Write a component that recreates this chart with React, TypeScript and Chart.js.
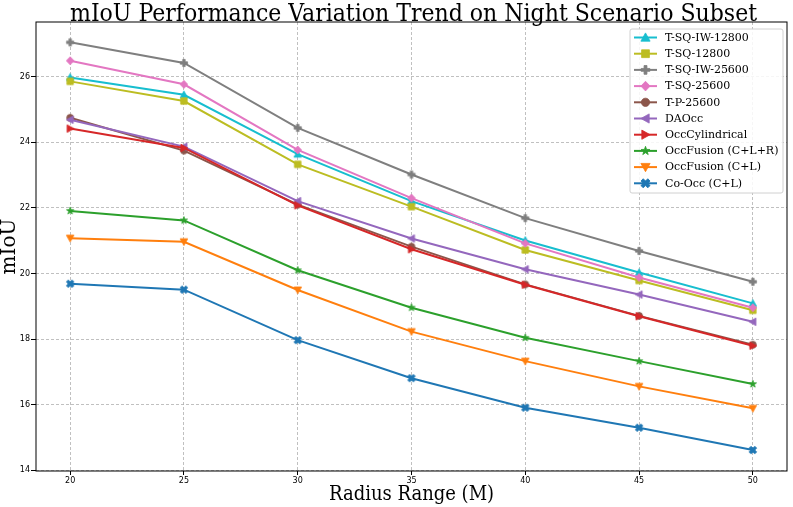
import React, { useEffect, useRef } from 'react';
import { Chart, registerables } from 'chart.js';

Chart.register(...registerables);

const radius = [20, 25, 30, 35, 40, 45, 50];
const xTicks = [20, 25, 30, 35, 40, 45, 50];
const yTicks = [14, 16, 18, 20, 22, 24, 26];

const chartTitle = 'mIoU Performance Variation Trend on Night Scenario Subset';
const xTitle = 'Radius Range (M)';
const yTitle = 'mIoU';

const seriesNames = [
  'T-SQ-IW-12800',
  'T-SQ-12800',
  'T-SQ-IW-25600',
  'T-SQ-25600',
  'T-P-25600',
  'DAOcc',
  'OccCylindrical',
  'OccFusion (C+L+R)',
  'OccFusion (C+L)',
  'Co-Occ (C+L)',
];

const tsqIw12800 = [25.98, 25.45, 23.64, 22.21, 21.01, 20.03, 19.09];
const tsq12800 = [25.86, 25.26, 23.33, 22.04, 20.72, 19.79, 18.88];
const tsqIw25600 = [27.05, 26.42, 24.44, 23.02, 21.69, 20.69, 19.75];
const tsq25600 = [26.49, 25.77, 23.77, 22.3, 20.92, 19.88, 18.96];
const tp25600 = [24.75, 23.75, 22.1, 20.82, 19.67, 18.71, 17.83];
const daocc = [24.69, 23.87, 22.21, 21.07, 20.13, 19.36, 18.53];
const occCylindrical = [24.42, 23.83, 22.08, 20.74, 19.66, 18.7, 17.8];
const occFusionCLR = [21.91, 21.62, 20.1, 18.96, 18.04, 17.33, 16.63];
const occFusionCL = [21.08, 20.97, 19.5, 18.23, 17.33, 16.56, 15.89];
const coOcc = [19.69, 19.51, 17.97, 16.81, 15.91, 15.3, 14.62];

const seriesValues = [
  tsqIw12800,
  tsq12800,
  tsqIw25600,
  tsq25600,
  tp25600,
  daocc,
  occCylindrical,
  occFusionCLR,
  occFusionCL,
  coOcc,
];

const seriesColors = [
  '#17becf',
  '#bcbd22',
  '#7f7f7f',
  '#e377c2',
  '#8c564b',
  '#9467bd',
  '#d62728',
  '#2ca02c',
  '#ff7f0e',
  '#1f77b4',
];

const seriesMarkers = [
  'triUp',
  'square',
  'plus',
  'diamond',
  'circle',
  'triLeft',
  'triRight',
  'star',
  'triDown',
  'xfilled',
];

const SERIF_COND = "'DejaVu Serif Condensed', 'DejaVu Serif', serif";
const SERIF = "'DejaVu Serif', serif";
const SANS = "'DejaVu Sans', sans-serif";

function drawMarker(ctx: CanvasRenderingContext2D, kind: string, cx: number, cy: number, h: number, color: string) {
  ctx.save();
  ctx.fillStyle = color;
  ctx.strokeStyle = color;
  ctx.lineWidth = 0.8;
  ctx.setLineDash([]);
  ctx.beginPath();
  switch (kind) {
    case 'triUp':
      ctx.moveTo(cx, cy - h);
      ctx.lineTo(cx + h, cy + h * 0.8);
      ctx.lineTo(cx - h, cy + h * 0.8);
      break;
    case 'triDown':
      ctx.moveTo(cx, cy + h);
      ctx.lineTo(cx + h, cy - h * 0.8);
      ctx.lineTo(cx - h, cy - h * 0.8);
      break;
    case 'triLeft':
      ctx.moveTo(cx - h, cy);
      ctx.lineTo(cx + h * 0.8, cy - h);
      ctx.lineTo(cx + h * 0.8, cy + h);
      break;
    case 'triRight':
      ctx.moveTo(cx + h, cy);
      ctx.lineTo(cx - h * 0.8, cy - h);
      ctx.lineTo(cx - h * 0.8, cy + h);
      break;
    case 'square': {
      const s = h * 0.85;
      ctx.rect(cx - s, cy - s, 2 * s, 2 * s);
      break;
    }
    case 'diamond':
      ctx.moveTo(cx, cy - h * 1.05);
      ctx.lineTo(cx + h * 1.0, cy);
      ctx.lineTo(cx, cy + h * 1.05);
      ctx.lineTo(cx - h * 1.0, cy);
      break;
    case 'circle':
      ctx.arc(cx, cy, h * 0.9, 0, Math.PI * 2);
      break;
    case 'plus': {
      const a = h * 0.95;
      const t = a / 3;
      ctx.moveTo(cx - t, cy - a);
      ctx.lineTo(cx + t, cy - a);
      ctx.lineTo(cx + t, cy - t);
      ctx.lineTo(cx + a, cy - t);
      ctx.lineTo(cx + a, cy + t);
      ctx.lineTo(cx + t, cy + t);
      ctx.lineTo(cx + t, cy + a);
      ctx.lineTo(cx - t, cy + a);
      ctx.lineTo(cx - t, cy + t);
      ctx.lineTo(cx - a, cy + t);
      ctx.lineTo(cx - a, cy - t);
      ctx.lineTo(cx - t, cy - t);
      break;
    }
    case 'star': {
      const ro = h * 1.0;
      const ri = ro * 0.4;
      for (let i = 0; i < 10; i++) {
        const r = i % 2 === 0 ? ro : ri;
        const ang = -Math.PI / 2 + (i * Math.PI) / 5;
        const px = cx + r * Math.cos(ang);
        const py = cy + r * Math.sin(ang);
        if (i === 0) ctx.moveTo(px, py);
        else ctx.lineTo(px, py);
      }
      break;
    }
    case 'xfilled': {
      ctx.translate(cx, cy);
      ctx.rotate(Math.PI / 4);
      const a = h * 1.05;
      const t = a / 3;
      ctx.moveTo(-t, -a);
      ctx.lineTo(t, -a);
      ctx.lineTo(t, -t);
      ctx.lineTo(a, -t);
      ctx.lineTo(a, t);
      ctx.lineTo(t, t);
      ctx.lineTo(t, a);
      ctx.lineTo(-t, a);
      ctx.lineTo(-t, t);
      ctx.lineTo(-a, t);
      ctx.lineTo(-a, -t);
      ctx.lineTo(-t, -t);
      break;
    }
  }
  ctx.closePath();
  ctx.fill();
  ctx.stroke();
  ctx.restore();
}

function markerImage(kind: string, color: string, h: number): HTMLCanvasElement {
  const size = Math.ceil(h * 2 + 4);
  const c = document.createElement('canvas');
  c.width = size;
  c.height = size;
  const ctx = c.getContext('2d')!;
  drawMarker(ctx, kind, size / 2, size / 2, h, color);
  return c;
}

const framePlugin = {
  id: 'frameAndLegend',
  afterDraw(chart: any) {
    const { ctx, chartArea } = chart;
    const { left, top, right, bottom } = chartArea;
    ctx.save();
    ctx.setLineDash([]);
    ctx.strokeStyle = '#000';
    ctx.lineWidth = 1;
    ctx.strokeRect(left, top, right - left, bottom - top);

    // title centred over the axes, as matplotlib does
    ctx.fillStyle = '#000';
    ctx.font = `24.5px ${SERIF_COND}`;
    ctx.textAlign = 'center';
    ctx.textBaseline = 'middle';
    ctx.fillText(chartTitle, (left + right) / 2 + 2, top - 7.5);

    // legend
    const bw = 153;
    const bh = 164;
    const bx = right - 4 - bw;
    const by = top + 7;
    ctx.fillStyle = 'rgba(255,255,255,0.85)';
    ctx.strokeStyle = '#d0d0d0';
    ctx.lineWidth = 1;
    ctx.beginPath();
    const r = 2;
    ctx.moveTo(bx + r, by);
    ctx.lineTo(bx + bw - r, by);
    ctx.quadraticCurveTo(bx + bw, by, bx + bw, by + r);
    ctx.lineTo(bx + bw, by + bh - r);
    ctx.quadraticCurveTo(bx + bw, by + bh, bx + bw - r, by + bh);
    ctx.lineTo(bx + r, by + bh);
    ctx.quadraticCurveTo(bx, by + bh, bx, by + bh - r);
    ctx.lineTo(bx, by + r);
    ctx.quadraticCurveTo(bx, by, bx + r, by);
    ctx.closePath();
    ctx.fill();
    ctx.stroke();

    ctx.font = `11px ${SERIF}`;
    ctx.textBaseline = 'middle';
    ctx.textAlign = 'left';
    seriesNames.forEach((name, i) => {
      const cy = by + 8.5 + i * 16.2;
      const color = seriesColors[i];
      ctx.strokeStyle = color;
      ctx.lineWidth = 2;
      ctx.beginPath();
      ctx.moveTo(bx + 4, cy);
      ctx.lineTo(bx + 27, cy);
      ctx.stroke();
      drawMarker(ctx, seriesMarkers[i], bx + 15.5, cy, 4.6, color);
      ctx.fillStyle = '#000';
      ctx.fillText(name, bx + 35, cy + 0.5);
    });
    ctx.restore();
  },
};

export default function App() {
  const canvasRef = useRef<HTMLCanvasElement | null>(null);

  useEffect(() => {
    const canvas = canvasRef.current;
    if (!canvas) return;
    const n = seriesNames.length;
    const datasets = seriesNames.map((name, i) => ({
      label: name,
      data: radius.map((x, j) => ({ x, y: seriesValues[i][j] })),
      borderColor: seriesColors[i],
      backgroundColor: seriesColors[i],
      borderWidth: 2,
      pointStyle: markerImage(seriesMarkers[i], seriesColors[i], 3.8) as any,
      pointRadius: 4,
      tension: 0,
      fill: false,
      order: n - i,
    }));

    const chart = new Chart(canvas, {
      type: 'line',
      data: { datasets },
      options: {
        animation: false,
        responsive: false,
        events: [],
        layout: { padding: { left: 0, right: 3, top: 22, bottom: 0 } },
        plugins: {
          legend: { display: false },
          tooltip: { enabled: false },
          title: { display: false },
        },
        scales: {
          x: {
            type: 'linear',
            min: 18.5,
            max: 51.5,
            afterBuildTicks: (s: any) => {
              s.ticks = xTicks.map((v) => ({ value: v }));
            },
            afterFit: (s: any) => {
              s.height = 36;
            },
            grid: {
              color: '#b0b0b0',
              lineWidth: 0.8,
              drawTicks: true,
              tickLength: 4,
              tickColor: '#000',
              tickWidth: 1,
            },
            border: { display: false, dash: [3, 2] },
            ticks: {
              color: '#000',
              padding: 1,
              font: { family: SANS, size: 8 },
              callback: (v: any) => String(v),
            },
            title: {
              display: true,
              text: xTitle,
              color: '#000',
              font: { family: SERIF_COND, size: 20, lineHeight: 1.2 },
              padding: { top: 0, bottom: 0 },
            },
          },
          y: {
            type: 'linear',
            min: 13.98,
            max: 27.67,
            afterBuildTicks: (s: any) => {
              s.ticks = yTicks.map((v) => ({ value: v }));
            },
            afterFit: (s: any) => {
              s.width = 36;
            },
            grid: {
              color: '#b0b0b0',
              lineWidth: 0.8,
              drawTicks: true,
              tickLength: 5,
              tickColor: '#000',
              tickWidth: 1,
            },
            border: { display: false, dash: [3, 2] },
            ticks: {
              color: '#000',
              padding: 1,
              font: { family: SANS, size: 8 },
              callback: (v: any) => String(v),
            },
            title: {
              display: true,
              text: yTitle,
              color: '#000',
              font: { family: SERIF, size: 20, lineHeight: 0.9 },
              padding: { top: 1, bottom: 0 },
            },
          },
        },
      },
      plugins: [framePlugin],
    });
    return () => chart.destroy();
  }, []);

  return (
    <div style={{ position: 'fixed', left: 0, top: 0, width: 793, height: 507, background: '#fff' }}>
      <canvas ref={canvasRef} width={793} height={507} style={{ width: 793, height: 507 }} />
    </div>
  );
}
